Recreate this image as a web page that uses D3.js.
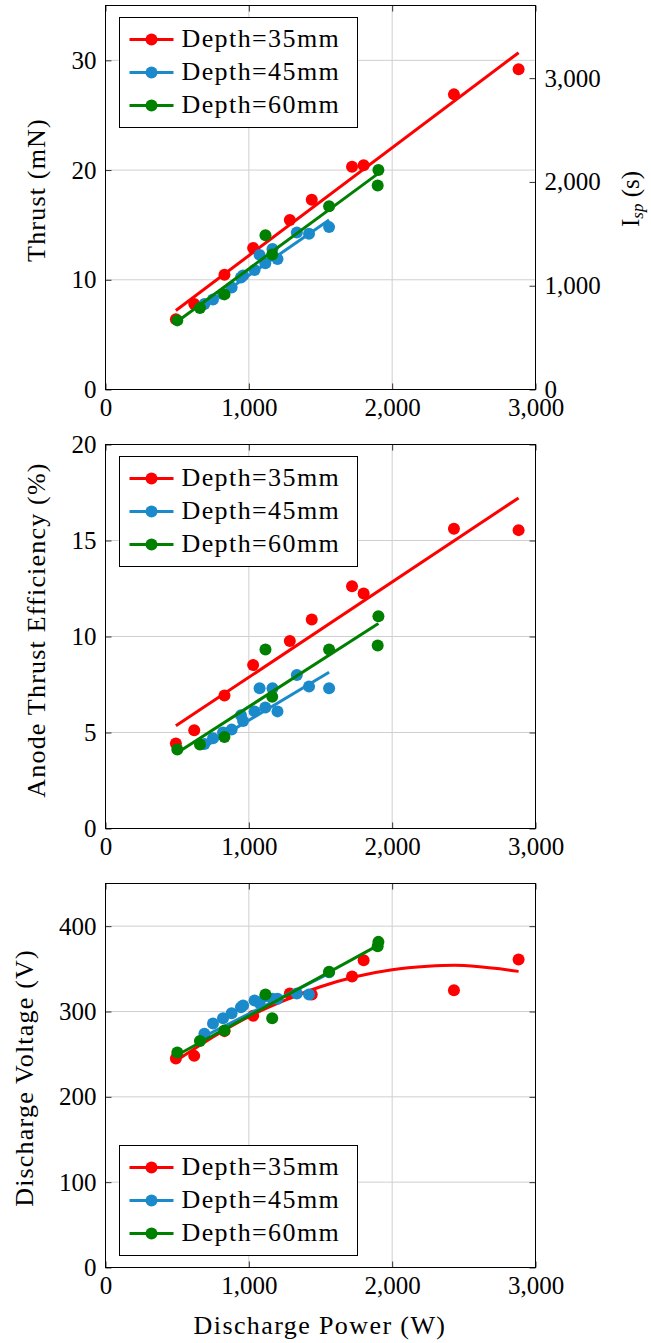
<!DOCTYPE html>
<html>
<head>
<meta charset="utf-8">
<script src="https://cdn.jsdelivr.net/npm/d3@7"></script>
<style>
  body { margin: 0; background: #fff; }
  text { font-family: "Liberation Serif", "Times New Roman", serif; }
</style>
</head>
<body>
<svg id="fig" width="651" height="1343"></svg>
<script>
// ---- data ----
const xTicks = [0, 1000, 2000, 3000];
const thrustTicks = [0, 10, 20, 30];
const ispTicks = [0, 1000, 2000, 3000];
const effTicks = [0, 5, 10, 15, 20];
const voltTicks = [0, 100, 200, 300, 400];

const seriesNames = ['Depth=35mm', 'Depth=45mm', 'Depth=60mm'];
const colors = ['#ff0000', '#1a8acb', '#008000'];

// discharge power (W)
const power35 = [491, 619, 830, 1030, 1286, 1439, 1720, 1801, 2431, 2882];
const power45 = [690, 750, 820, 880, 945, 960, 1040, 1075, 1115, 1165, 1200, 1335, 1420, 1560];
const power60 = [501, 659, 830, 1116, 1163, 1560, 1904, 1899];

// thrust (mN)
const thrust35 = [6.4, 7.8, 10.45, 12.9, 15.45, 17.3, 20.3, 20.45, 26.9, 29.2];
const thrust45 = [7.8, 8.2, 8.7, 9.3, 10.2, 10.4, 10.9, 12.27, 11.5, 12.8, 11.9, 14.3, 14.2, 14.8];
const thrust60 = [6.3, 7.42, 8.67, 14.05, 12.3, 16.7, 20.0, 18.6];

// anode thrust efficiency (%)
const eff35 = [4.43, 5.12, 6.93, 8.51, 9.76, 10.89, 12.62, 12.24, 15.61, 15.54];
const eff45 = [4.4, 4.7, 5.0, 5.15, 5.9, 5.6, 6.1, 7.3, 6.3, 7.3, 6.1, 8.0, 7.4, 7.3];
const eff60 = [4.11, 4.37, 4.76, 9.32, 6.86, 9.32, 11.06, 9.53];

// discharge voltage (V)
const volt35 = [245, 248, 277, 295, 321, 320, 341, 360, 325, 361];
const volt45 = [274, 286, 292, 298, 305, 307, 313, 310, 318, 315, 315, 321, 320, 346];
const volt60 = [252, 265.5, 277.6, 320, 292, 346.6, 381.6, 376.6];

// fit lines (end values)
const fitPower35 = [491, 2882];
const fitPower45 = [690, 1560];
const fitPower60 = [501, 1904];
const fitThrust35 = [7.2, 30.7];
const fitThrust45 = [7.6, 15.45];
const fitThrust60 = [6.2, 19.7];
const fitEff35 = [5.35, 17.22];
const fitEff45 = [4.25, 8.14];
const fitEff60 = [3.95, 10.68];
const fitVolt45 = [271, 344.7];
const fitVolt60 = [249, 377.8];
// quadratic trend of depth 35mm voltage
const curvePower35 = [491, 750, 1000, 1250, 1500, 1750, 2000, 2250, 2500, 2750, 2882];
const curveVolt35 = [242, 270, 294, 313, 329, 341, 349, 353, 354, 350, 347];

const zip = (xs, ys) => xs.map((d, i) => [d, ys[i]]);

const svg = d3.select('#fig');
const x = d3.scaleLinear().domain([0, 3000]).range([105.5, 535.5]);
const fmt = d3.format(',');
const gridColor = '#cfcfcf';

function styleAxis(sel) {
  sel.attr('font-family', '"Liberation Serif", serif').attr('font-size', 25);
  sel.select('.domain').remove();
  sel.selectAll('.tick line').attr('stroke', '#333').attr('stroke-width', 1);
  sel.selectAll('.tick text').attr('fill', '#000');
}

function drawPanel(cfg) {
  const g = svg.append('g');
  const y = d3.scaleLinear().domain([0, cfg.yMax]).range([cfg.bottom, cfg.top]);

  // grid
  g.append('g').selectAll('line').data(xTicks.slice(1, -1)).join('line')
    .attr('x1', d => x(d)).attr('x2', d => x(d))
    .attr('y1', cfg.top).attr('y2', cfg.bottom)
    .attr('stroke', gridColor);
  g.append('g').selectAll('line').data(cfg.yTicks.filter(d => d > 0 && d < cfg.yMax)).join('line')
    .attr('x1', x(0)).attr('x2', x(3000))
    .attr('y1', d => y(d)).attr('y2', d => y(d))
    .attr('stroke', gridColor);

  // axes, ticks inside
  g.append('g').attr('transform', `translate(0,${cfg.bottom})`)
    .call(d3.axisBottom(x).tickValues(xTicks).tickFormat(fmt).tickSize(-6).tickPadding(9))
    .call(styleAxis);
  g.append('g').attr('transform', `translate(0,${cfg.top})`)
    .call(d3.axisTop(x).tickValues(xTicks).tickFormat('').tickSize(-6))
    .call(styleAxis);
  g.append('g').attr('transform', `translate(${x(0)},0)`)
    .call(d3.axisLeft(y).tickValues(cfg.yTicks).tickSize(-6).tickPadding(9))
    .call(styleAxis);

  if (cfg.right) {
    const y2 = d3.scaleLinear().domain([0, cfg.right.max]).range([cfg.bottom, cfg.top]);
    g.append('g').attr('transform', `translate(${x(3000)},0)`)
      .call(d3.axisRight(y2).tickValues(cfg.right.ticks).tickFormat(fmt).tickSize(-6).tickPadding(9))
      .call(styleAxis);
    const t = g.append('text')
      .attr('transform', `translate(${cfg.right.labelX},${cfg.right.labelY}) rotate(-90)`)
      .attr('text-anchor', 'middle').attr('font-size', 25);
    t.append('tspan').text('I');
    t.append('tspan').text('sp').attr('font-style', 'italic').attr('font-size', 17).attr('dy', 4);
    t.append('tspan').text(' (s)').attr('dy', -4);
  } else {
    g.append('g').attr('transform', `translate(${x(3000)},0)`)
      .call(d3.axisRight(y).tickValues(cfg.yTicks).tickFormat('').tickSize(-6))
      .call(styleAxis);
  }

  // frame
  g.append('rect')
    .attr('x', x(0)).attr('y', cfg.top)
    .attr('width', x(3000) - x(0)).attr('height', cfg.bottom - cfg.top)
    .attr('fill', 'none').attr('stroke', '#000').attr('stroke-width', 1);

  // y label
  g.append('text')
    .attr('transform', `translate(${cfg.labelX},${cfg.labelY}) rotate(-90)`)
    .attr('text-anchor', 'middle').attr('font-size', 26).attr('letter-spacing', 1.2)
    .text(cfg.ylabel);

  // series: marks then trend line, red -> blue -> green
  const line = d3.line().x(d => x(d[0])).y(d => y(d[1]));
  cfg.series.forEach((s, i) => {
    g.append('g').selectAll('circle').data(zip(s.px, s.py)).join('circle')
      .attr('cx', d => x(d[0])).attr('cy', d => y(d[1])).attr('r', 6)
      .attr('fill', colors[i]);
    g.append('path').datum(zip(s.fx, s.fy))
      .attr('d', s.curve ? line.curve(d3.curveNatural) : line.curve(d3.curveLinear))
      .attr('fill', 'none').attr('stroke', colors[i]).attr('stroke-width', 3);
  });

  // legend
  const lg = g.append('g').attr('transform', `translate(119.5,${cfg.legendY})`);
  lg.append('rect').attr('width', 238).attr('height', 110)
    .attr('fill', '#fff').attr('stroke', '#000').attr('stroke-width', 1);
  seriesNames.forEach((n, i) => {
    const cy = 22 + i * 33;
    lg.append('line').attr('x1', 10).attr('x2', 54).attr('y1', cy).attr('y2', cy)
      .attr('stroke', colors[i]).attr('stroke-width', 3);
    lg.append('circle').attr('cx', 32).attr('cy', cy).attr('r', 6).attr('fill', colors[i]);
    lg.append('text').attr('x', 62).attr('y', cy).attr('dy', '0.3em')
      .attr('font-size', 26).attr('letter-spacing', 1.4).text(n);
  });
}

drawPanel({
  top: 5.5, bottom: 389.5, yMax: 35, yTicks: thrustTicks,
  ylabel: 'Thrust (mN)', labelX: 45, labelY: 190,
  right: { max: 3700, ticks: ispTicks, labelX: 639, labelY: 199 },
  legendY: 17.5,
  series: [
    { px: power35, py: thrust35, fx: fitPower35, fy: fitThrust35 },
    { px: power45, py: thrust45, fx: fitPower45, fy: fitThrust45 },
    { px: power60, py: thrust60, fx: fitPower60, fy: fitThrust60 }
  ]
});

drawPanel({
  top: 444.5, bottom: 828.5, yMax: 20, yTicks: effTicks,
  ylabel: 'Anode Thrust Efficiency (%)', labelX: 45, labelY: 630,
  legendY: 456.5,
  series: [
    { px: power35, py: eff35, fx: fitPower35, fy: fitEff35 },
    { px: power45, py: eff45, fx: fitPower45, fy: fitEff45 },
    { px: power60, py: eff60, fx: fitPower60, fy: fitEff60 }
  ]
});

drawPanel({
  top: 883.5, bottom: 1267.5, yMax: 450, yTicks: voltTicks,
  ylabel: 'Discharge Voltage (V)', labelX: 33, labelY: 1078,
  legendY: 1145.5,
  series: [
    { px: power35, py: volt35, fx: curvePower35, fy: curveVolt35, curve: true },
    { px: power45, py: volt45, fx: fitPower45, fy: fitVolt45 },
    { px: power60, py: volt60, fx: fitPower60, fy: fitVolt60 }
  ]
});

svg.append('text')
  .attr('x', 320).attr('y', 1334)
  .attr('text-anchor', 'middle').attr('font-size', 26).attr('letter-spacing', 1.4)
  .text('Discharge Power (W)');
</script>
</body>
</html>
